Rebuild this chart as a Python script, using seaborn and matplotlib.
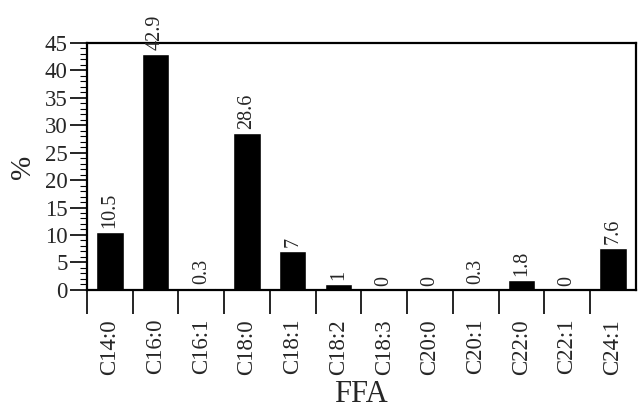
import matplotlib
matplotlib.use("Agg")
import matplotlib.pyplot as plt
from matplotlib.ticker import MultipleLocator, FixedLocator
import seaborn as sns
import pandas as pd

sns.set_theme(style="ticks")
plt.rcParams["font.family"] = ["Liberation Serif", "DejaVu Serif"]

fatty_acids = ["C14:0", "C16:0", "C16:1", "C18:0", "C18:1", "C18:2",
               "C18:3", "C20:0", "C20:1", "C22:0", "C22:1", "C24:1"]
percent = [10.5, 42.9, 0.3, 28.6, 7, 1, 0, 0, 0.3, 1.8, 0, 7.6]

df = pd.DataFrame({"FFA": fatty_acids, "pct": percent})

fig = plt.figure(figsize=(6.41, 4.17), dpi=100)
ax = fig.add_axes([0.1357, 0.305, 0.856, 0.592])

sns.barplot(data=df, x="FFA", y="pct", color="black", width=0.6,
            saturation=1, ax=ax)

ax.bar_label(ax.containers[0], labels=[f"{v:g}" for v in percent],
             rotation=90, padding=3, fontsize=14.5)

ax.set_ylim(0, 45)
ax.set_xlim(-0.5, len(fatty_acids) - 0.5)
ax.yaxis.set_major_locator(MultipleLocator(5))
ax.yaxis.set_minor_locator(MultipleLocator(1))
ax.tick_params(axis="y", which="major", direction="out", length=12,
               width=1.2, labelsize=16.5, pad=2, color="black")
ax.tick_params(axis="y", which="minor", direction="out", length=5,
               width=0.8, color="black")

# x ticks sit at category boundaries, labels at centres
ax.xaxis.set_minor_locator(FixedLocator([i - 0.5 for i in range(len(fatty_acids))]))
ax.tick_params(axis="x", which="minor", direction="out", length=17,
               width=1.2, color="black")
ax.tick_params(axis="x", which="major", length=0, labelsize=16.5, pad=21,
               rotation=90)

for side in ["left", "right", "top", "bottom"]:
    ax.spines[side].set_visible(True)
    ax.spines[side].set_linewidth(1.6)
    ax.spines[side].set_color("black")

ax.set_xlabel("FFA", fontsize=22, labelpad=4)
ax.set_ylabel("%", fontsize=21, labelpad=6)

fig.savefig("out.png", dpi=100)
